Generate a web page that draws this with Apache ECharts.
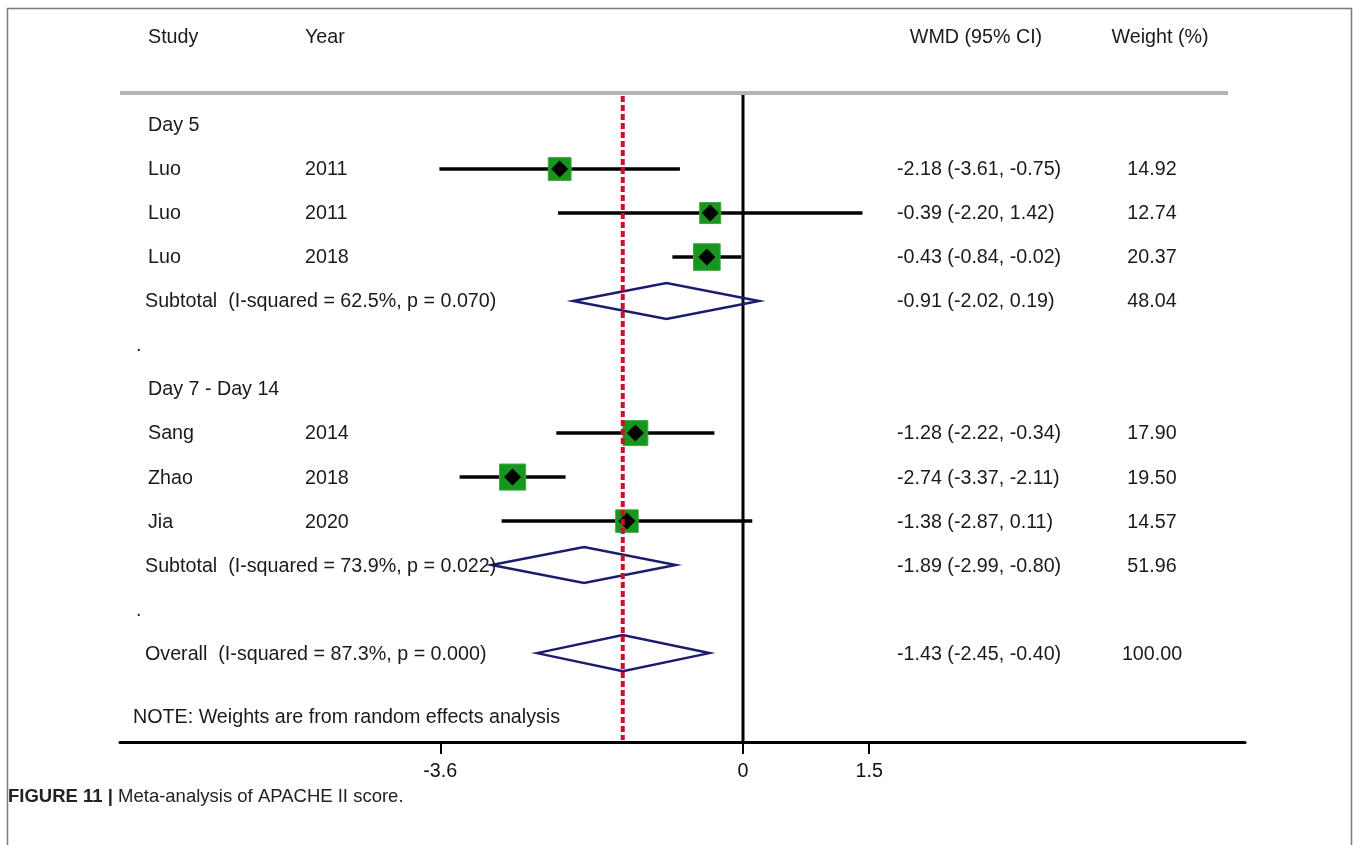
<!DOCTYPE html>
<html><head><meta charset="utf-8">
<script src="https://cdn.jsdelivr.net/npm/echarts@6/dist/echarts.min.js"></script>
<style>html,body{margin:0;padding:0;background:#fff}#c{width:1358px;height:845px}</style>
</head><body><div id="c"></div>
<script>
// ---------- data ----------
const headers = ['Study', 'Year', 'WMD (95% CI)', 'Weight (%)'];
const groupTitles = ['Day 5', 'Day 7 - Day 14'];
const studyNames = ['Luo', 'Luo', 'Luo', 'Sang', 'Zhao', 'Jia'];
const studyYears = ['2011', '2011', '2018', '2014', '2018', '2020'];
const studyGroup = [0, 0, 0, 1, 1, 1];
const studyEst = [-2.18, -0.39, -0.43, -1.28, -2.74, -1.38];
const studyLow = [-3.61, -2.20, -0.84, -2.22, -3.37, -2.87];
const studyHigh = [-0.75, 1.42, -0.02, -0.34, -2.11, 0.11];
const studyWeight = [14.92, 12.74, 20.37, 17.90, 19.50, 14.57];
const subtotalLabels = ['Subtotal  (I-squared = 62.5%, p = 0.070)', 'Subtotal  (I-squared = 73.9%, p = 0.022)'];
const subtotalEst = [-0.91, -1.89];
const subtotalLow = [-2.02, -2.99];
const subtotalHigh = [0.19, -0.80];
const subtotalWeight = [48.04, 51.96];
const overallLabel = 'Overall  (I-squared = 87.3%, p = 0.000)';
const overallEst = [-1.43];
const overallLow = [-2.45];
const overallHigh = [-0.40];
const overallWeight = [100.00];
const refValues = [0];            // null line
const xTicks = [-3.6, 0, 1.5];
const noteText = 'NOTE: Weights are from random effects analysis';
const captionBold = 'FIGURE 11 |';
const captionText = ' Meta-analysis of APACHE II score.';

// ---------- layout (not data) ----------
const FONT = '"Liberation Sans", Arial, Helvetica, sans-serif';
const FS = 19.7;
const col = { study: 148, year: 305, wmd: 897, wmdHead: 976, weight: 1152, weightHead: 1160, sub: 145, dot: 136, note: 133 };
const ROW_TOP_LINE = 1.27, ROW_AXIS = 16.02, ROW_NOTE = 15.45;
const fmt = v => v.toFixed(2);
const ciText = (e, l, h) => `${fmt(e)} (${fmt(l)}, ${fmt(h)})`;

// ---------- build row structure ----------
const texts = [];   // {x, row, text, align}
const studyRows = [], subRows = [];
texts.push({x: col.study, row: 0, text: headers[0], align: 'left'});
texts.push({x: col.year, row: 0, text: headers[1], align: 'left'});
texts.push({x: col.wmdHead, row: 0, text: headers[2], align: 'center'});
texts.push({x: col.weightHead, row: 0, text: headers[3], align: 'center'});
let r = 2;
groupTitles.forEach((g, gi) => {
  texts.push({x: col.study, row: r, text: g, align: 'left'}); r++;
  studyNames.forEach((n, i) => {
    if (studyGroup[i] !== gi) return;
    studyRows[i] = r;
    texts.push({x: col.study, row: r, text: n, align: 'left'});
    texts.push({x: col.year, row: r, text: studyYears[i], align: 'left'});
    texts.push({x: col.wmd, row: r, text: ciText(studyEst[i], studyLow[i], studyHigh[i]), align: 'left'});
    texts.push({x: col.weight, row: r, text: fmt(studyWeight[i]), align: 'center'});
    r++;
  });
  subRows[gi] = r;
  texts.push({x: col.sub, row: r, text: subtotalLabels[gi], align: 'left'});
  texts.push({x: col.wmd, row: r, text: ciText(subtotalEst[gi], subtotalLow[gi], subtotalHigh[gi]), align: 'left'});
  texts.push({x: col.weight, row: r, text: fmt(subtotalWeight[gi]), align: 'center'});
  r++;
  texts.push({x: col.dot, row: r, text: '.', align: 'left'});
  r++;
});
const overallRow = r;
texts.push({x: col.sub, row: overallRow, text: overallLabel, align: 'left'});
texts.push({x: col.wmd, row: overallRow, text: ciText(overallEst[0], overallLow[0], overallHigh[0]), align: 'left'});
texts.push({x: col.weight, row: overallRow, text: fmt(overallWeight[0]), align: 'center'});
texts.push({x: col.note, row: ROW_NOTE, text: noteText, align: 'left'});

const pooled = subtotalEst.map((e, i) => [subtotalLow[i], e, subtotalHigh[i], subRows[i]])
  .concat([[overallLow[0], overallEst[0], overallHigh[0], overallRow]]);

const chart = echarts.init(document.getElementById('c'), null, {renderer: 'canvas'});
chart.setOption({
  backgroundColor: '#fff',
  animation: false,
  grid: {left: 120, right: 113, top: 37, bottom: 103},
  xAxis: [{
    type: 'value', min: -7.408, max: 5.969,
    splitLine: {show: false},
    axisLine: {show: true, onZero: false, lineStyle: {color: '#000', width: 3}},
    axisTick: {show: true, customValues: xTicks, length: 12, lineStyle: {color: '#000', width: 2}},
    axisLabel: {show: true, customValues: xTicks, formatter: v => String(v), color: '#111', fontSize: FS, fontFamily: FONT, margin: 20}
  }, {
    type: 'value', min: 120, max: 1245, show: false
  }],
  yAxis: {type: 'value', inverse: true, min: 0, max: ROW_AXIS, show: false},
  graphic: [
    {type: 'rect', shape: {x: 7.5, y: 8.5, width: 1344, height: 900}, style: {fill: null, stroke: '#7a7a7a', lineWidth: 1.5}, silent: true},
    {type: 'text', x: 8, y: 797, style: {
      text: '{b|' + captionBold + '}{n|' + captionText + '}', verticalAlign: 'middle',
      rich: {
        b: {font: 'bold 18.5px "Liberation Sans", Arial, sans-serif', fill: '#222'},
        n: {font: '18.5px "Liberation Sans", Arial, sans-serif', fill: '#222'}
      }
    }}
  ],
  series: [
    { // gray header rule
      type: 'custom', xAxisIndex: 1, data: [[120, 1228, ROW_TOP_LINE]],
      renderItem: (p, api) => {
        const a = api.coord([api.value(0), api.value(2)]), b = api.coord([api.value(1), api.value(2)]);
        return {type: 'line', shape: {x1: a[0], y1: a[1], x2: b[0], y2: b[1]}, style: {stroke: '#b4b4b4', lineWidth: 4}};
      }
    },
    { // null line
      type: 'custom', data: refValues.map(v => [v, ROW_TOP_LINE, ROW_AXIS]),
      renderItem: (p, api) => {
        const a = api.coord([api.value(0), api.value(1)]), b = api.coord([api.value(0), api.value(2)]);
        return {type: 'line', shape: {x1: a[0], y1: a[1] + 2, x2: b[0], y2: b[1]}, style: {stroke: '#000', lineWidth: 3}};
      }
    },
    { // CI lines
      type: 'custom', data: studyEst.map((e, i) => [studyLow[i], studyHigh[i], studyRows[i]]),
      renderItem: (p, api) => {
        const a = api.coord([api.value(0), api.value(2)]), b = api.coord([api.value(1), api.value(2)]);
        return {type: 'line', shape: {x1: a[0], y1: a[1], x2: b[0], y2: b[1]}, style: {stroke: '#000', lineWidth: 3.5}};
      }
    },
    { // weight boxes
      type: 'custom', data: studyEst.map((e, i) => [e, studyRows[i], studyWeight[i]]),
      renderItem: (p, api) => {
        const c = api.coord([api.value(0), api.value(1)]);
        const s = 5.9 * Math.sqrt(api.value(2));
        return {type: 'rect', shape: {x: c[0] - s / 2, y: c[1] - s / 2, width: s, height: s}, style: {fill: '#17951c', stroke: '#3aa83e', lineWidth: 1}};
      }
    },
    { // point markers
      type: 'custom', data: studyEst.map((e, i) => [e, studyRows[i]]),
      renderItem: (p, api) => {
        const c = api.coord([api.value(0), api.value(1)]);
        const h = 8.5;
        return {type: 'polygon', shape: {points: [[c[0], c[1] - h], [c[0] + h, c[1]], [c[0], c[1] + h], [c[0] - h, c[1]]]}, style: {fill: '#000'}};
      }
    },
    { // pooled diamonds
      type: 'custom', data: pooled,
      renderItem: (p, api) => {
        const l = api.coord([api.value(0), api.value(3)]), m = api.coord([api.value(1), api.value(3)]), h = api.coord([api.value(2), api.value(3)]);
        const d = 18;
        return {type: 'polygon', shape: {points: [[l[0], l[1]], [m[0], m[1] - d], [h[0], h[1]], [m[0], m[1] + d]]}, style: {fill: 'rgba(255,255,255,0)', stroke: '#1c1c6e', lineWidth: 2.5}};
      }
    },
    { // overall effect line
      type: 'custom', data: overallEst.map(v => [v, ROW_TOP_LINE, ROW_AXIS]), z: 5,
      renderItem: (p, api) => {
        const a = api.coord([api.value(0), api.value(1)]), b = api.coord([api.value(0), api.value(2)]);
        return {type: 'line', shape: {x1: a[0], y1: a[1] + 3, x2: b[0], y2: b[1] - 2}, style: {stroke: '#c8102e', lineWidth: 4, lineDash: [6, 3]}};
      }
    },
    { // texts
      type: 'custom', xAxisIndex: 1, data: texts.map(t => [t.x, t.row]),
      renderItem: (p, api) => {
        const t = texts[p.dataIndex];
        const c = api.coord([api.value(0), api.value(1)]);
        return {type: 'text', x: c[0], y: c[1] + 1, style: {text: t.text, fill: '#1a1a1a', font: FS + 'px ' + FONT, align: t.align, verticalAlign: 'middle'}};
      }
    }
  ]
});
</script></body></html>
